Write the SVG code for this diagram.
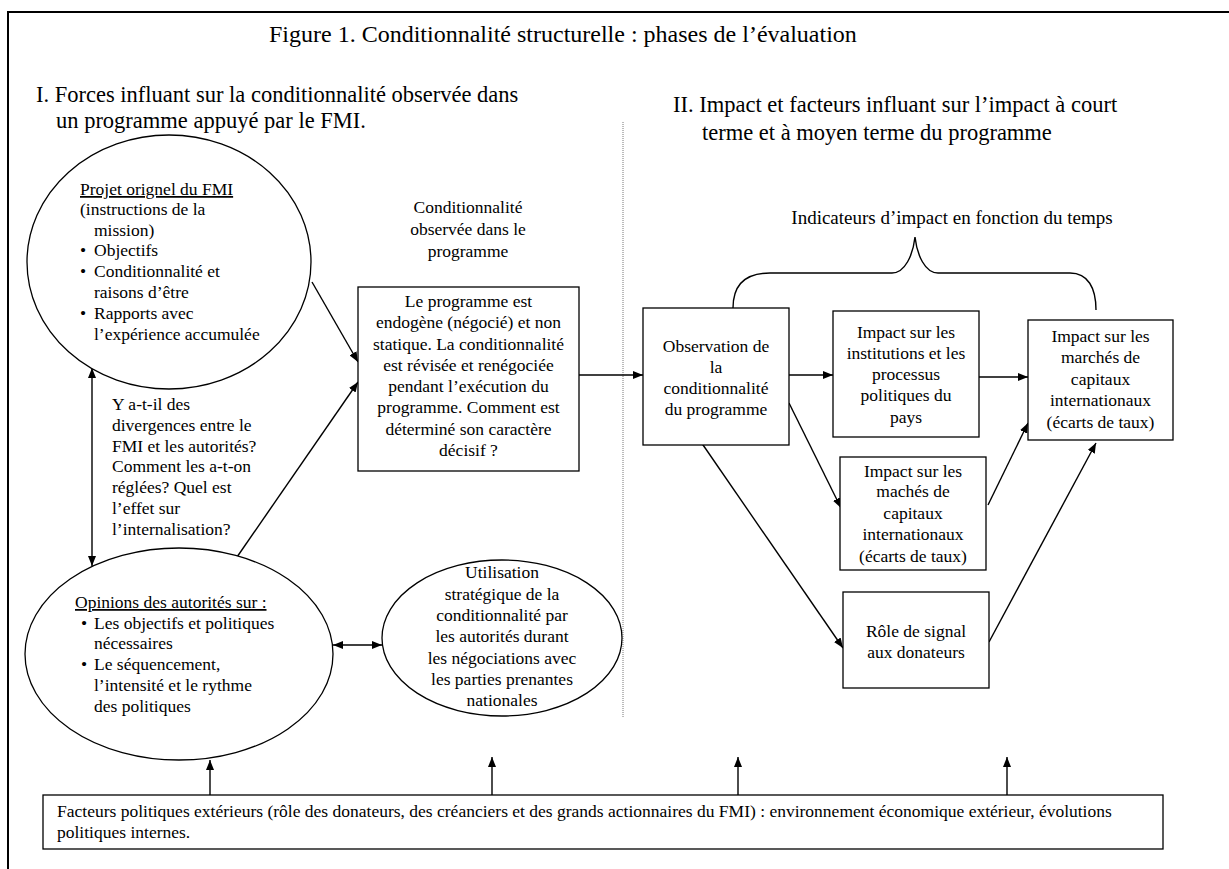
<svg xmlns="http://www.w3.org/2000/svg" width="1229" height="869" viewBox="0 0 1229 869">
<style>
text { font-family: "Liberation Serif", "Times New Roman", serif; fill: #000; }
.b { font-size: 17.5px; }
.h { font-size: 22.5px; }
.ti { font-size: 24px; }
.c { text-anchor: middle; }
.u { text-decoration: underline; }
.shape { fill: #fff; stroke: #000; stroke-width: 1.3; }
.ln { fill: none; stroke: #000; stroke-width: 1.4; }
</style>
<defs>
<marker id="ah" viewBox="0 0 10 8" refX="10" refY="4" markerWidth="10" markerHeight="8" orient="auto-start-reverse" markerUnits="userSpaceOnUse">
<path d="M0,0 L10,4 L0,8 z" fill="#000"/>
</marker>
</defs>
<rect width="1229" height="869" fill="#fff"/>
<g id="frame">
<path d="M8,869 L8,12 L1229,12" fill="none" stroke="#000" stroke-width="2"/>
</g>
<g id="titles">
<text class="ti" x="269" y="42">Figure 1. Conditionnalité structurelle : phases de l’évaluation</text>
<text class="h" x="36" y="102">I. Forces influant sur la conditionnalité observée dans</text>
<text class="h" x="56" y="128">un programme appuyé par le FMI.</text>
<text class="h" x="673" y="112">II. Impact et facteurs influant sur l’impact à court</text>
<text class="h" x="702" y="140">terme et à moyen terme du programme</text>
</g>
<line x1="623" y1="122" x2="623" y2="718" stroke="#777" stroke-width="1" stroke-dasharray="1,1"/>
<g id="connectors">
<line class="ln" x1="92" y1="368" x2="92" y2="566" marker-start="url(#ah)" marker-end="url(#ah)"/>
<line class="ln" x1="312" y1="282" x2="358" y2="362" marker-end="url(#ah)"/>
<line class="ln" x1="237" y1="557" x2="358" y2="382" marker-end="url(#ah)"/>
<line class="ln" x1="333" y1="645" x2="382" y2="645" marker-start="url(#ah)" marker-end="url(#ah)"/>
<line class="ln" x1="579" y1="375" x2="643" y2="375" marker-end="url(#ah)"/>
<line class="ln" x1="789" y1="375" x2="833" y2="375" marker-end="url(#ah)"/>
<line class="ln" x1="979" y1="377" x2="1028" y2="377" marker-end="url(#ah)"/>
<line class="ln" x1="789" y1="403" x2="841" y2="508" marker-end="url(#ah)"/>
<line class="ln" x1="988" y1="505" x2="1028" y2="423" marker-end="url(#ah)"/>
<line class="ln" x1="701" y1="442" x2="843" y2="648" marker-end="url(#ah)"/>
<line class="ln" x1="989" y1="642" x2="1096" y2="443" marker-end="url(#ah)"/>
<line class="ln" x1="210" y1="795" x2="210" y2="760" marker-end="url(#ah)"/>
<line class="ln" x1="492" y1="795" x2="492" y2="757" marker-end="url(#ah)"/>
<line class="ln" x1="738" y1="795" x2="738" y2="757" marker-end="url(#ah)"/>
<line class="ln" x1="1007" y1="795" x2="1007" y2="757" marker-end="url(#ah)"/>
<path class="ln" d="M733,308 C733,285 745,273 770,273 L892,273 C905,273 913,255 915,237 C917,255 925,273 938,273 L1070,273 C1088,273 1096,288 1096,310"/>
</g>
<g id="projet">
<ellipse class="shape" cx="169" cy="262" rx="142" ry="127"/>
<text class="b u" x="80" y="195">Projet orignel du FMI</text>
<text class="b" x="80" y="215">(instructions de la</text>
<text class="b" x="94" y="236">mission)</text>
<text class="b" x="80" y="256">•</text><text class="b" x="94" y="256">Objectifs</text>
<text class="b" x="80" y="277">•</text><text class="b" x="94" y="277">Conditionnalité et</text>
<text class="b" x="94" y="298">raisons d’être</text>
<text class="b" x="80" y="319">•</text><text class="b" x="94" y="319">Rapports avec</text>
<text class="b" x="94" y="340">l’expérience accumulée</text>
</g>
<g id="question">
<text class="b" x="112" y="410">Y a-t-il des</text>
<text class="b" x="112" y="431">divergences entre le</text>
<text class="b" x="112" y="452">FMI et les autorités?</text>
<text class="b" x="112" y="472">Comment les a-t-on</text>
<text class="b" x="112" y="493">réglées? Quel est</text>
<text class="b" x="112" y="514">l’effet sur</text>
<text class="b" x="112" y="535">l’internalisation?</text>
</g>
<g id="opinions">
<ellipse class="shape" cx="179" cy="654" rx="154" ry="106"/>
<text class="b u" x="75" y="608">Opinions des autorités sur :</text>
<text class="b" x="81" y="629">•</text><text class="b" x="94" y="629">Les objectifs et politiques</text>
<text class="b" x="94" y="649">nécessaires</text>
<text class="b" x="81" y="670">•</text><text class="b" x="94" y="670">Le séquencement,</text>
<text class="b" x="94" y="691">l’intensité et le rythme</text>
<text class="b" x="94" y="712">des politiques</text>
</g>
<g id="cond-label">
<text class="b c" x="468" y="213">Conditionnalité</text>
<text class="b c" x="468" y="235">observée dans le</text>
<text class="b c" x="468" y="257">programme</text>
</g>
<g id="programme">
<rect class="shape" x="358" y="287" width="221" height="184"/>
<text class="b c" x="468.5" y="307">Le programme est</text>
<text class="b c" x="468.5" y="328">endogène (négocié) et non</text>
<text class="b c" x="468.5" y="350">statique. La conditionnalité</text>
<text class="b c" x="468.5" y="371">est révisée et renégociée</text>
<text class="b c" x="468.5" y="392">pendant l’exécution du</text>
<text class="b c" x="468.5" y="413">programme. Comment est</text>
<text class="b c" x="468.5" y="435">déterminé son caractère</text>
<text class="b c" x="468.5" y="456">décisif ?</text>
</g>
<g id="utilisation">
<ellipse class="shape" cx="502" cy="638" rx="120" ry="78"/>
<text class="b c" x="502" y="578">Utilisation</text>
<text class="b c" x="502" y="600">stratégique de la</text>
<text class="b c" x="502" y="621">conditionnalité par</text>
<text class="b c" x="502" y="642">les autorités durant</text>
<text class="b c" x="502" y="664">les négociations avec</text>
<text class="b c" x="502" y="685">les parties prenantes</text>
<text class="b c" x="502" y="706">nationales</text>
</g>
<g id="indicateurs">
<text class="b c" x="952" y="224" style="font-size:19px">Indicateurs d’impact en fonction du temps</text>
</g>
<g id="observation">
<rect class="shape" x="643" y="308" width="146" height="137"/>
<text class="b c" x="716" y="352">Observation de</text>
<text class="b c" x="716" y="373">la</text>
<text class="b c" x="716" y="394">conditionnalité</text>
<text class="b c" x="716" y="415">du programme</text>
</g>
<g id="institutions">
<rect class="shape" x="833" y="311" width="146" height="126"/>
<text class="b c" x="906" y="338">Impact sur les</text>
<text class="b c" x="906" y="359">institutions et les</text>
<text class="b c" x="906" y="380">processus</text>
<text class="b c" x="906" y="401">politiques du</text>
<text class="b c" x="906" y="423">pays</text>
</g>
<g id="marches-right">
<rect class="shape" x="1028" y="320" width="145" height="120"/>
<text class="b c" x="1100.5" y="342">Impact sur les</text>
<text class="b c" x="1100.5" y="363">marchés de</text>
<text class="b c" x="1100.5" y="385">capitaux</text>
<text class="b c" x="1100.5" y="406">internationaux</text>
<text class="b c" x="1100.5" y="428">(écarts de taux)</text>
</g>
<g id="marches-mid">
<rect class="shape" x="840" y="457" width="146" height="113"/>
<text class="b c" x="913" y="477">Impact sur les</text>
<text class="b c" x="913" y="497">machés de</text>
<text class="b c" x="913" y="519">capitaux</text>
<text class="b c" x="913" y="540">internationaux</text>
<text class="b c" x="913" y="562">(écarts de taux)</text>
</g>
<g id="signal">
<rect class="shape" x="843" y="592" width="146" height="96"/>
<text class="b c" x="916" y="637">Rôle de signal</text>
<text class="b c" x="916" y="658">aux donateurs</text>
</g>
<g id="facteurs">
<rect class="shape" x="43" y="795" width="1120" height="54"/>
<text class="b" x="57" y="817">Facteurs politiques extérieurs (rôle des donateurs, des créanciers et des grands actionnaires du FMI) : environnement économique extérieur, évolutions</text>
<text class="b" x="57" y="838">politiques internes.</text>
</g>
</svg>
